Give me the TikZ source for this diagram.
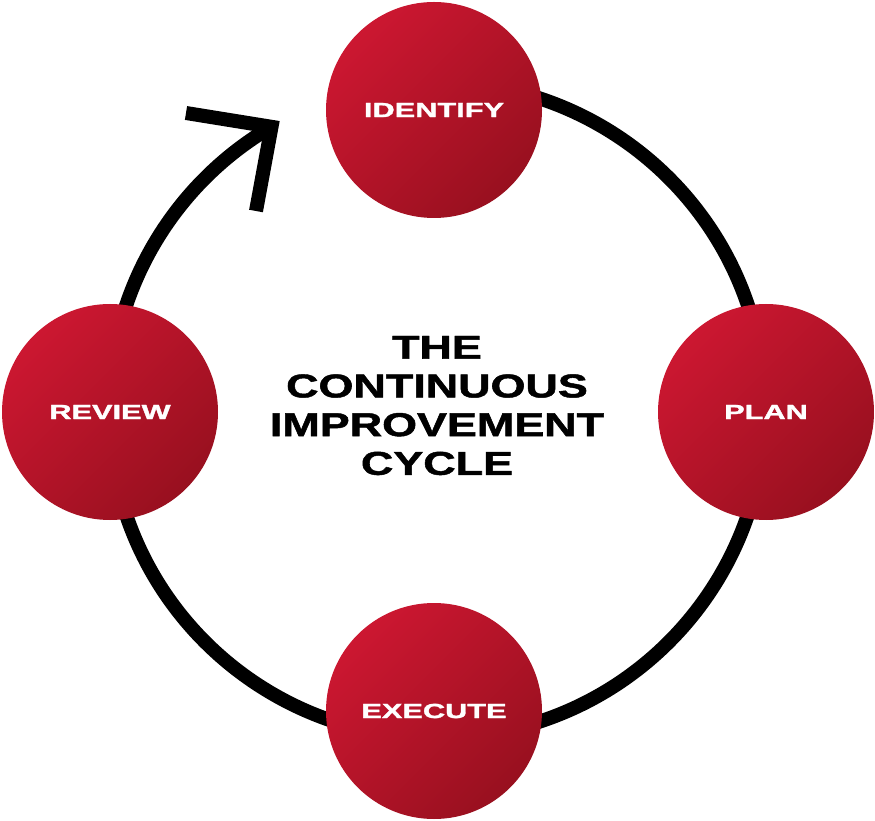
\documentclass[tikz,border=0pt]{standalone}
\usepackage{fontspec}
\setmainfont{Liberation Sans}
\newfontfamily\heavy[FakeBold=1.3]{Liberation Sans Bold}
\definecolor{redA}{HTML}{CC1731}
\definecolor{redB}{HTML}{98101F}
\begin{document}
\begin{tikzpicture}[x=1pt,y=1pt,
  stage/.style={circle, inner sep=0pt, minimum size=216pt, top color=redA, middle color=redA, bottom color=redB, shading angle=45, text=white, font=\fontsize{20.5}{21}\heavy},
  ring/.style={line width=14pt, draw=black}]
\useasboundingbox (0,0) rectangle (875,820);
\coordinate (c) at (437,410);
\draw[ring] (c) ++(95:328) arc[start angle=95, end angle=-239.7, radius=328] coordinate (v);
\coordinate (w1) at (186,707);
\coordinate (w2) at (256,609);
\draw[ring, line join=miter, line cap=butt] (w1) -- (v) -- (w2);
\node[stage] (identify) at (434,710) {\scalebox{1.5}[1]{IDENTIFY}};
\node[stage] (plan) at (766,408) {\scalebox{1.5}[1]{PLAN}};
\node[stage] (execute) at (434,109) {\scalebox{1.5}[1]{EXECUTE}};
\node[stage] (review) at (110,408) {\scalebox{1.5}[1]{REVIEW}};
\node (title) at (437,411) {\fontsize{33}{38.7}\heavy\scalebox{1.36}[1]{\begin{tabular}{@{}c@{}}THE\\CONTINUOUS\\IMPROVEMENT\\CYCLE\end{tabular}}};
\end{tikzpicture}
\end{document}
